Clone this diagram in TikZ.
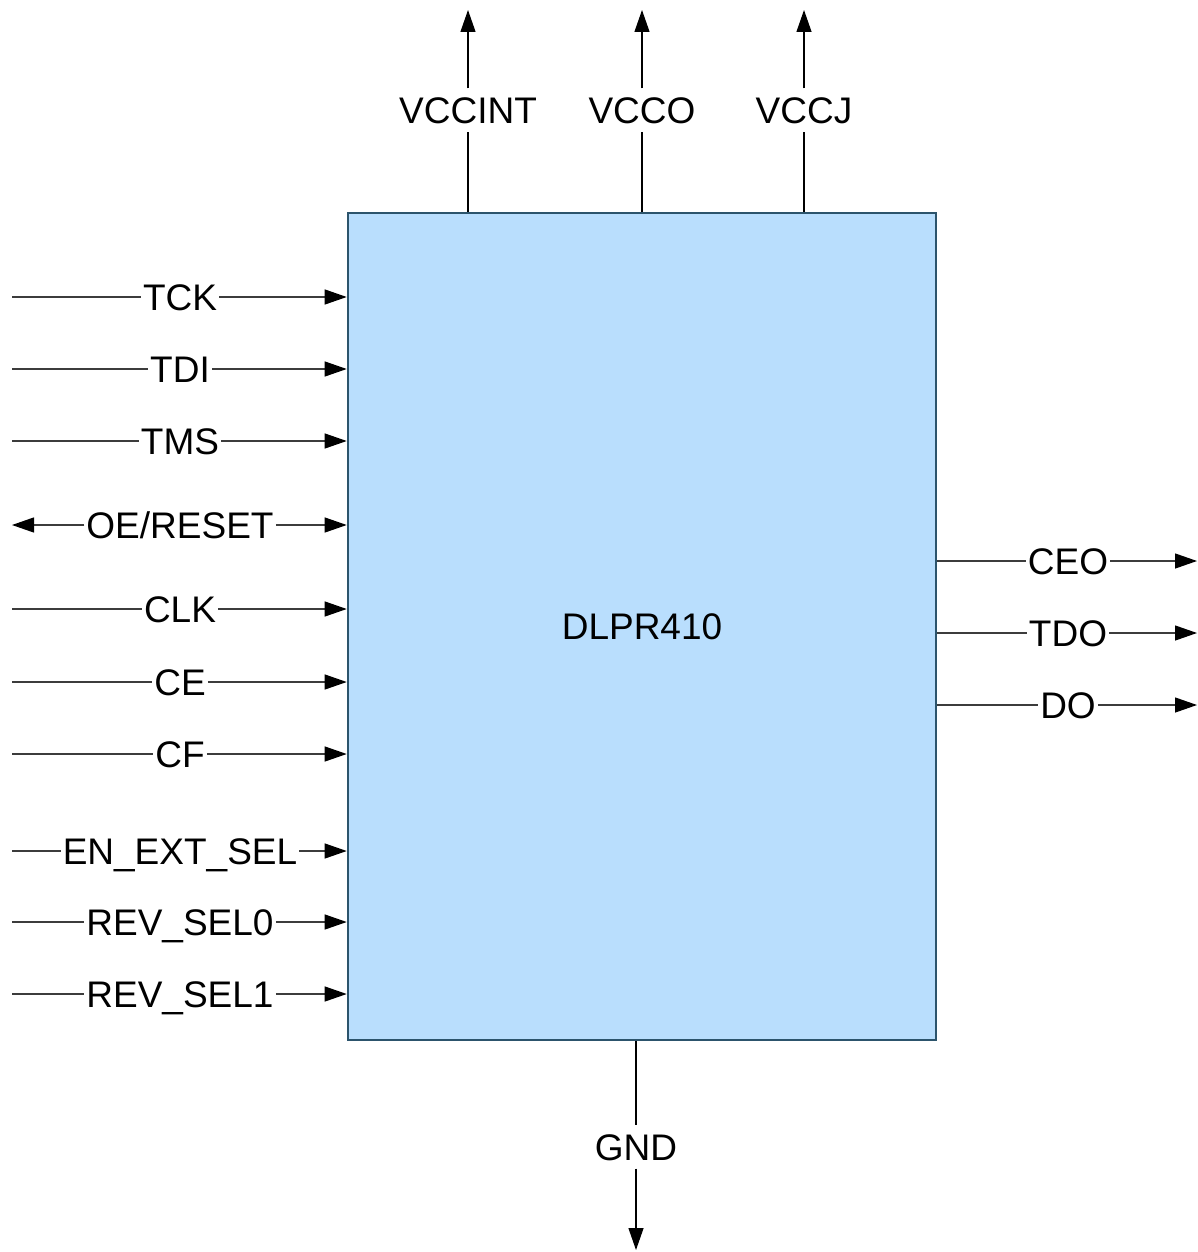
\documentclass[tikz,border=0pt]{standalone}
\usepackage{fontspec}
\setmainfont{Liberation Sans}
\usetikzlibrary{arrows.meta}
\definecolor{chipfill}{RGB}{185,222,253}
\definecolor{chipline}{RGB}{44,84,108}
\definecolor{wire}{RGB}{60,60,60}
\begin{document}
\begin{tikzpicture}[x=1pt,y=-1pt,
  every node/.style={font=\fontsize{37}{44}\selectfont},
  wireline/.style={draw=wire,line width=1.2pt},
  arr/.style={wireline,-{Triangle[length=22pt,width=15pt,color=black]}},
  sig/.style={inner xsep=2pt,inner ysep=1pt,text height=27pt,text depth=0pt},
  vsig/.style={inner xsep=2pt,inner ysep=8pt,text height=27pt,text depth=0pt},
  chipbox/.style={draw=chipline,fill=chipfill,line width=2.6pt,minimum width=588pt,minimum height=827pt,inner sep=0pt}]
\useasboundingbox (0,0) rectangle (1198,1252);
\node[chipbox] (chip) at (642,626.5) {DLPR410};
% left inputs
\foreach \n/\t/\y in {tck/TCK/297,tdi/TDI/369,tms/TMS/441,clk/CLK/609,ce/CE/682,cf/CF/754,ens/EN\_EXT\_SEL/851,rs0/REV\_SEL0/922,rs1/REV\_SEL1/994}{
  \coordinate (s\n) at (12,\y);
  \node[sig] (l\n) at (180,\y) {\t};
  \draw[wireline] (s\n) -- (l\n);
  \draw[arr] (l\n) -- (l\n -| chip.west);
}
% bidirectional OE/RESET
\coordinate (soe) at (12,525);
\node[sig] (loe) at (180,525) {OE/RESET};
\draw[arr] (loe) -- (soe);
\draw[arr] (loe) -- (loe -| chip.west);
% right outputs
\foreach \n/\t/\y in {ceo/CEO/561,tdo/TDO/633,do/DO/705}{
  \coordinate (e\n) at (1197,\y);
  \node[sig] (r\n) at (1068,\y) {\t};
  \draw[wireline] (r\n -| chip.east) -- (r\n);
  \draw[arr] (r\n) -- (e\n);
}
% top supplies
\foreach \n/\t/\x in {vint/VCCINT/468,vo/VCCO/642,vj/VCCJ/804}{
  \coordinate (t\n) at (\x,10);
  \node[vsig] (p\n) at (\x,110) {\t};
  \draw[wireline,draw=black] (p\n |- chip.north) -- (p\n);
  \draw[arr,draw=black] (p\n) -- (t\n);
}
% ground
\coordinate (tgnd) at (636,1250);
\node[vsig] (pgnd) at (636,1147) {GND};
\draw[wireline,draw=black] (pgnd |- chip.south) -- (pgnd);
\draw[arr,draw=black] (pgnd) -- (tgnd);
\end{tikzpicture}
\end{document}
